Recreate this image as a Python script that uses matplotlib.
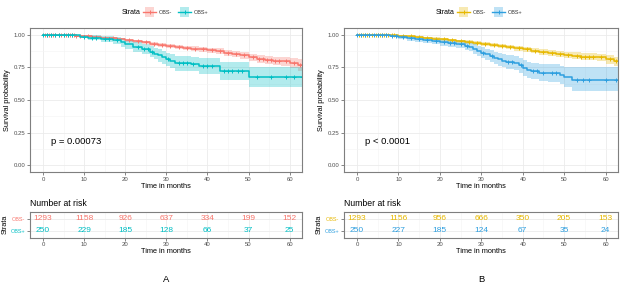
import numpy as np
import matplotlib
matplotlib.use("Agg")
import matplotlib.pyplot as plt
from matplotlib.patches import Rectangle
from matplotlib.lines import Line2D

plt.rcParams["font.family"] = ["Liberation Sans", "DejaVu Sans"]

# ---- data ----
strata = ["OBS-", "OBS+"]
risk_times = [0, 10, 20, 30, 40, 50, 60]

# panel A
a_neg_t = [0, 3, 6, 8, 10, 12, 14, 16, 18, 20, 22, 24, 26, 28, 30, 32, 34, 36, 38, 40,
           42, 44, 46, 48, 50, 52, 54, 56, 58, 60, 62]
a_neg_s = [1.0, 0.997, 0.994, 0.99, 0.987, 0.982, 0.977, 0.972, 0.965, 0.957, 0.948, 0.94,
           0.93, 0.92, 0.912, 0.905, 0.898, 0.892, 0.886, 0.88, 0.872, 0.862, 0.852, 0.84,
           0.826, 0.812, 0.805, 0.80, 0.795, 0.785, 0.765]
a_neg_lo = [1.0, 0.994, 0.99, 0.985, 0.981, 0.975, 0.969, 0.963, 0.955, 0.946, 0.936, 0.927,
            0.916, 0.905, 0.896, 0.888, 0.88, 0.873, 0.866, 0.859, 0.85, 0.839, 0.828, 0.815,
            0.8, 0.784, 0.775, 0.768, 0.761, 0.748, 0.72]
a_neg_hi = [1.0, 1.0, 0.998, 0.995, 0.993, 0.989, 0.985, 0.981, 0.975, 0.968, 0.96, 0.953,
            0.944, 0.935, 0.928, 0.922, 0.916, 0.911, 0.906, 0.901, 0.894, 0.885, 0.876, 0.865,
            0.852, 0.84, 0.835, 0.832, 0.829, 0.822, 0.81]
a_neg_cens = [0.5, 1, 1.5, 2, 2.5, 3, 4, 4.5, 5, 5.5, 6, 6.5, 7, 7.5, 8, 9, 11, 13, 15, 17,
              21, 23, 25, 27, 29, 31, 33, 35, 37, 39, 41, 43, 45, 47, 49, 51, 52.5, 53.5,
              54.5, 55.5, 56.5, 57.5, 59, 61, 62.5]

a_pos_t = [0, 9, 11, 14, 17, 19, 20, 22, 24, 26, 27, 28, 29, 30, 31, 32, 36, 38, 43, 50]
a_pos_s = [1.0, 0.985, 0.975, 0.965, 0.955, 0.94, 0.925, 0.905, 0.89, 0.87, 0.855, 0.84,
           0.825, 0.81, 0.795, 0.78, 0.775, 0.76, 0.72, 0.675]
a_pos_lo = [1.0, 0.97, 0.955, 0.94, 0.927, 0.908, 0.89, 0.867, 0.85, 0.827, 0.81, 0.793,
            0.776, 0.759, 0.742, 0.725, 0.719, 0.702, 0.655, 0.6]
a_pos_hi = [1.0, 1.0, 0.995, 0.99, 0.983, 0.972, 0.96, 0.943, 0.93, 0.913, 0.9, 0.887,
            0.874, 0.861, 0.848, 0.835, 0.831, 0.818, 0.79, 0.75]
a_pos_cens = [0, 1, 2, 3, 4, 5, 6, 7, 10, 12, 13, 15, 16, 18, 23, 24.5, 25.5, 26.5, 30.5,
              33, 34, 35, 36.5, 39, 40, 41, 44, 45, 46, 47.5, 48.5, 52, 55.5, 59, 61, 63]

# panel B
b_neg_t = [0, 4, 8, 10, 12, 14, 16, 18, 20, 22, 24, 26, 28, 30, 32, 34, 36, 38, 40, 42,
           44, 46, 48, 50, 52, 54, 56, 58, 60, 62]
b_neg_s = [1.0, 0.997, 0.993, 0.99, 0.986, 0.981, 0.975, 0.969, 0.963, 0.957, 0.95, 0.943,
           0.936, 0.928, 0.92, 0.912, 0.904, 0.896, 0.888, 0.878, 0.868, 0.86, 0.852, 0.845,
           0.838, 0.832, 0.83, 0.825, 0.81, 0.795]
b_neg_lo = [1.0, 0.994, 0.989, 0.985, 0.98, 0.974, 0.967, 0.96, 0.953, 0.946, 0.938, 0.93,
            0.922, 0.913, 0.904, 0.895, 0.886, 0.877, 0.868, 0.857, 0.846, 0.837, 0.828,
            0.82, 0.812, 0.805, 0.802, 0.796, 0.778, 0.76]
b_neg_hi = [1.0, 1.0, 0.997, 0.995, 0.992, 0.988, 0.983, 0.978, 0.973, 0.968, 0.962, 0.956,
            0.95, 0.943, 0.936, 0.929, 0.922, 0.915, 0.908, 0.899, 0.89, 0.883, 0.876,
            0.87, 0.864, 0.859, 0.858, 0.854, 0.842, 0.83]
b_neg_cens = [0.5, 1, 1.5, 2, 2.5, 3, 3.5, 4.5, 5, 5.5, 6, 6.5, 7, 7.5, 8.5, 9, 11, 13, 15,
              17, 19, 21, 23, 25, 27, 29, 31, 33, 35, 37, 39, 41, 43, 45, 47, 49, 51, 53,
              54, 55, 56, 57, 59, 61, 62.5]

b_pos_t = [0, 8, 10, 12, 14, 16, 18, 20, 22, 24, 26, 27, 28, 29, 30, 31, 32, 33, 34, 35,
           36, 38, 39, 40, 41, 42, 44, 46, 49, 50, 52]
b_pos_s = [1.0, 0.99, 0.98, 0.972, 0.963, 0.955, 0.948, 0.94, 0.933, 0.925, 0.915, 0.905,
           0.89, 0.875, 0.86, 0.848, 0.835, 0.82, 0.81, 0.8, 0.79, 0.78, 0.765, 0.745,
           0.73, 0.72, 0.71, 0.705, 0.69, 0.675, 0.65]
b_pos_lo = [1.0, 0.978, 0.965, 0.954, 0.943, 0.933, 0.924, 0.914, 0.905, 0.895, 0.883,
            0.871, 0.854, 0.837, 0.82, 0.806, 0.791, 0.774, 0.762, 0.75, 0.738, 0.726,
            0.709, 0.687, 0.67, 0.658, 0.646, 0.639, 0.621, 0.603, 0.565]
b_pos_hi = [1.0, 1.0, 0.995, 0.99, 0.984, 0.978, 0.973, 0.967, 0.962, 0.956, 0.948,
            0.94, 0.928, 0.915, 0.902, 0.892, 0.881, 0.868, 0.86, 0.852, 0.844, 0.836,
            0.823, 0.806, 0.793, 0.785, 0.777, 0.773, 0.761, 0.749, 0.755]
b_pos_cens = [0, 1, 2, 3, 4, 5, 6, 7, 8.5, 9.5, 11, 13, 15, 17, 19, 21, 22.5, 23.5, 25,
              26.5, 30.5, 32.5, 36.5, 37.5, 39.5, 42.5, 43.5, 45, 47, 48, 53, 54.5, 56,
              60, 62.5]

a_risk = {"OBS-": [1293, 1158, 926, 637, 334, 199, 152],
          "OBS+": [250, 229, 185, 128, 66, 37, 25]}
b_risk = {"OBS-": [1293, 1156, 956, 666, 350, 205, 153],
          "OBS+": [250, 227, 185, 124, 67, 35, 24]}

a_colors = ["#F8766D", "#00BFC4"]
b_colors = ["#E7B800", "#2E9FDF"]
a_pval = "p = 0.00073"
b_pval = "p < 0.0001"

# ---- layout ----
W, H = 624, 289
fig = plt.figure(figsize=(W / 100, H / 100), dpi=100)


def px_axes(x0, y0, x1, y1):
    return fig.add_axes([x0 / W, 1 - y1 / H, (x1 - x0) / W, (y1 - y0) / H])


XMAX = 63
XLIM = (-XMAX * 0.05, XMAX)
tick_col = "#4d4d4d"
grid_col = "#ebebeb"


def style(ax):
    for s in ax.spines.values():
        s.set_color("#7f7f7f")
        s.set_linewidth(0.8)
    ax.set_xlim(*XLIM)
    ax.set_xticks(risk_times)
    ax.set_xticks([5, 15, 25, 35, 45, 55], minor=True)
    ax.tick_params(which="major", length=2, width=0.5, color="#555555",
                   labelsize=4.3, labelcolor=tick_col, pad=1.5)
    ax.tick_params(which="minor", length=0)
    ax.grid(True, which="major", color=grid_col, lw=0.6)
    ax.grid(True, which="minor", color="#f4f4f4", lw=0.4)
    ax.set_axisbelow(True)


def km(ax, t, s, lo, hi, cens, color):
    tt = list(t) + [XMAX]
    ax.fill_between(tt, list(lo) + [lo[-1]], list(hi) + [hi[-1]], step="post",
                    color=color, alpha=0.3, lw=0)
    ax.step(tt, list(s) + [s[-1]], where="post", color=color, lw=1.1)
    idx = np.searchsorted(t, cens, side="right") - 1
    ax.plot(cens, np.array(s)[idx], ls="none", marker="+", ms=3.5, mew=0.7, color=color)


def panel(x0, x1, curves, colors, pval, risk, letter, legend_x):
    ax = px_axes(x0, 28, x1, 172)
    style(ax)
    for (t, s, lo, hi, c), col in zip(curves, colors):
        km(ax, t, s, lo, hi, c, col)
    ax.set_ylim(-0.05, 1.05)
    ax.set_yticks([0, 0.25, 0.5, 0.75, 1.0])
    ax.set_yticklabels(["0.00", "0.25", "0.50", "0.75", "1.00"])
    ax.set_yticks([0.125, 0.375, 0.625, 0.875], minor=True)
    ax.set_xlabel("Time in months", fontsize=5.3, labelpad=0.5)
    ax.set_ylabel("Survival probability", fontsize=5.3, labelpad=2)
    ax.text(2, 0.18, pval, fontsize=6.8, ha="left", va="center")

    # risk table
    tb = px_axes(x0, 212, x1, 237.5)
    style(tb)
    tb.set_ylim(0.4, 2.6)
    tb.set_yticks([1, 2])
    tb.set_yticklabels(strata[::-1])
    tb.grid(True, which="major", axis="y", color=grid_col, lw=0.6)
    for lab, col in zip(tb.get_yticklabels(), colors[::-1]):
        lab.set_color(col)
        lab.set_fontsize(4.0)
    for row, name, col in zip([2, 1], strata, colors):
        for x, n in zip(risk_times, risk[name]):
            tb.text(x, row, str(n), color=col, fontsize=6, ha="center", va="center")
    tb.set_xlabel("Time in months", fontsize=5.3, labelpad=0.5)
    tb.set_ylabel("Strata", fontsize=5.3, labelpad=1)
    fig.text(x0 / W, 1 - 203 / H, "Number at risk", fontsize=6.2, ha="left", va="center")
    fig.text((x0 + x1) / 2 / W, 1 - 280 / H, letter, fontsize=6.8, ha="center", va="center")

    # legend
    ly = 1 - 12 / H
    fig.text(legend_x / W, ly, "Strata", fontsize=5, ha="left", va="center")
    kx = legend_x + 21
    for name, col in zip(strata, colors):
        fig.patches.append(Rectangle(((kx + 2) / W, (289 - 16.5) / H), 9 / W, 9 / H,
                                     transform=fig.transFigure, color=col, alpha=0.3, lw=0))
        fig.lines.append(Line2D([kx / W, (kx + 13) / W], [ly, ly], transform=fig.transFigure,
                                color=col, lw=1.0))
        fig.lines.append(Line2D([(kx + 6.5) / W], [ly], transform=fig.transFigure, color=col,
                                marker="+", ms=3.5, mew=0.7, ls="none"))
        fig.text((kx + 16) / W, ly, name, fontsize=4, ha="left", va="center", color="#333333")
        kx += 35
    return ax


panel(30, 302,
      [(a_neg_t, a_neg_s, a_neg_lo, a_neg_hi, a_neg_cens),
       (a_pos_t, a_pos_s, a_pos_lo, a_pos_hi, a_pos_cens)],
      a_colors, a_pval, a_risk, "A", 122)
panel(344, 618,
      [(b_neg_t, b_neg_s, b_neg_lo, b_neg_hi, b_neg_cens),
       (b_pos_t, b_pos_s, b_pos_lo, b_pos_hi, b_pos_cens)],
      b_colors, b_pval, b_risk, "B", 436)

fig.savefig("out.png", dpi=100, facecolor="white")
